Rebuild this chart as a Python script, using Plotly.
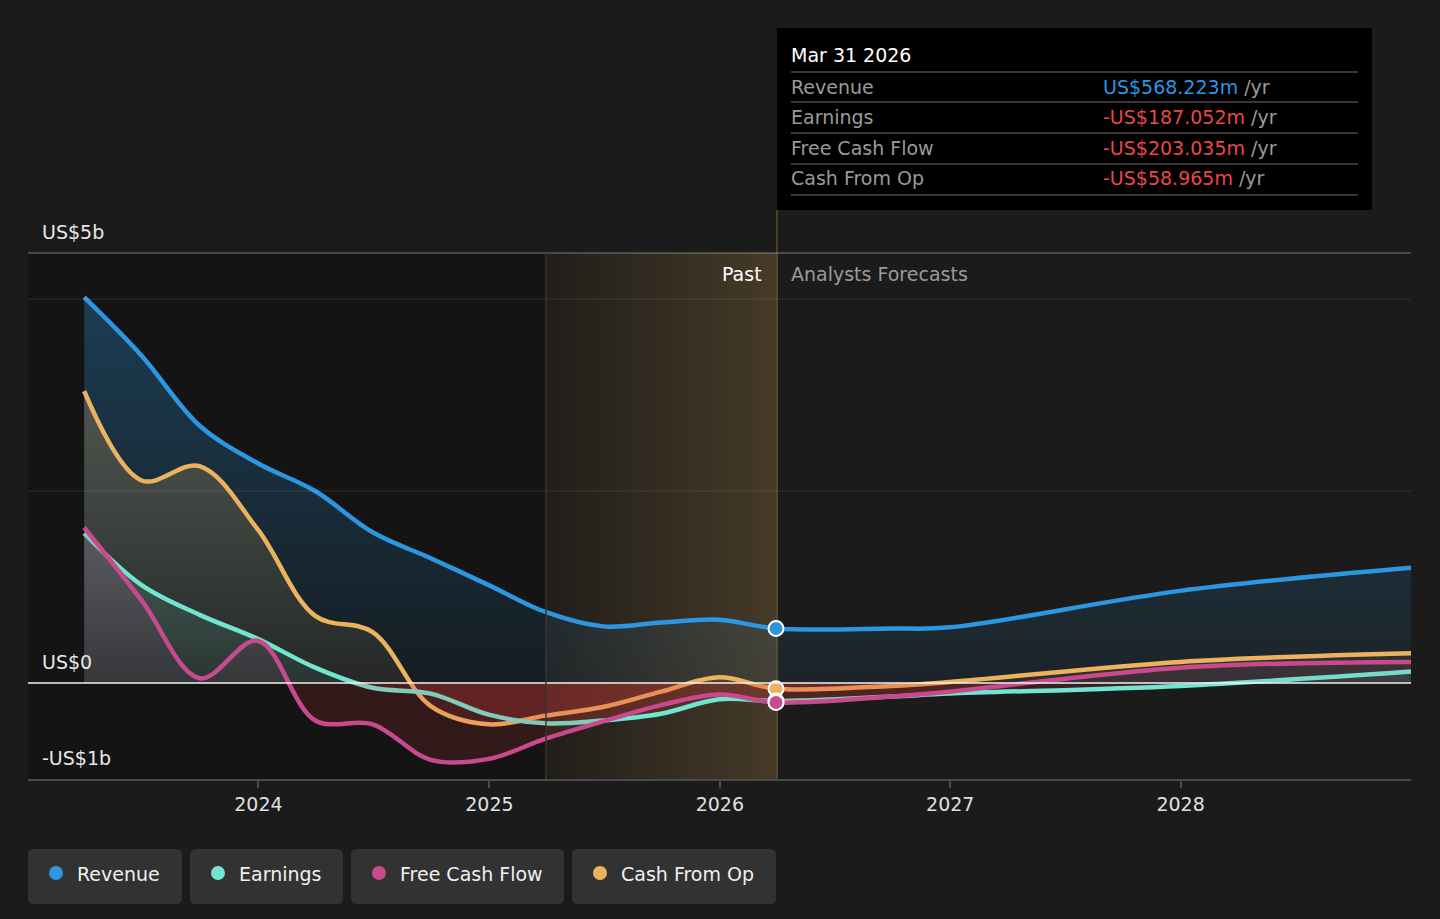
import plotly.graph_objects as go

# ---- data (US$ billions) ----
past_dates = ['2023-03-31', '2023-06-30', '2023-09-30', '2023-12-31',
              '2024-03-31', '2024-06-30', '2024-09-30', '2024-12-31',
              '2025-03-31', '2025-06-30', '2025-09-30', '2025-12-31',
              '2026-03-31']
forecast_dates = ['2026-09-30', '2026-12-31', '2027-12-31', '2028-12-31']

revenue = [4.02, 3.41, 2.68, 2.29, 2.00, 1.57, 1.30, 1.02, 0.74, 0.59, 0.63, 0.66, 0.568]
revenue_fc = [0.568, 0.58, 0.96, 1.20]
earnings = [1.56, 1.02, 0.71, 0.46, 0.16, -0.05, -0.11, -0.33, -0.42, -0.39, -0.32, -0.17, -0.187]
earnings_fc = [-0.14, -0.11, -0.03, 0.12]
free_cash_flow = [1.62, 0.86, 0.05, 0.44, -0.39, -0.43, -0.80, -0.79, -0.58, -0.40, -0.23, -0.12, -0.203]
free_cash_flow_fc = [-0.14, -0.09, 0.16, 0.22]
cash_from_op = [3.04, 2.11, 2.26, 1.60, 0.70, 0.53, -0.24, -0.43, -0.34, -0.25, -0.09, 0.06, -0.059]
cash_from_op_fc = [-0.03, 0.01, 0.22, 0.31]

series_names = ['Revenue', 'Earnings', 'Free Cash Flow', 'Cash From Op']
series_colors = ['#2c96e0', '#71e5d0', '#c8498c', '#ecb35f']
tooltip_date = 'Mar 31 2026'
tooltip_values = ['US$568.223m', '-US$187.052m', '-US$203.035m', '-US$58.965m']
x_ticks = ['2024-01-01', '2025-01-01', '2026-01-01', '2027-01-01', '2028-01-01']
x_tick_labels = ['2024', '2025', '2026', '2027', '2028']

Y_MIN, Y_MAX = -1.0, 4.48
FONT = 'DejaVu Sans'
BG = '#1b1b1b'

# plot box in pixels, used to place the decorations
L, R, T, B = 28, 1411, 253, 779
PAD = 2  # annotation inner padding


def px(x):
    return (x - L) / (R - L)


def py(y):
    return (B - y) / (B - T)


def rgba(hex_color, a):
    h = hex_color.lstrip('#')
    r, g, b = int(h[0:2], 16), int(h[2:4], 16), int(h[4:6], 16)
    return f'rgba({r},{g},{b},{a})'


zero_pos = (0 - Y_MIN) / (Y_MAX - Y_MIN)
neg_red = '#dc3a3a'

fig = go.Figure()

all_dates = past_dates + forecast_dates
data = [revenue + revenue_fc, earnings + earnings_fc,
        free_cash_flow + free_cash_flow_fc, cash_from_op + cash_from_op_fc]
draw_order = [0, 3, 1, 2]

for i in draw_order:
    col = series_colors[i]
    fig.add_trace(go.Scatter(
        x=all_dates, y=data[i], mode='lines', name=series_names[i],
        line=dict(color=col, width=4.5, shape='spline', smoothing=1.0),
        fill='tozeroy',
        fillgradient=dict(
            type='vertical', start=Y_MIN, stop=Y_MAX,
            colorscale=[[0, rgba(neg_red, 0.15)], [zero_pos, rgba(neg_red, 0.15)],
                        [zero_pos, rgba(col, 0.07)], [1, rgba(col, 0.34)]]),
        hoverinfo='skip', showlegend=False,
    ))

# end-of-past markers
for i in [0, 3, 1, 2]:
    fig.add_trace(go.Scatter(
        x=[past_dates[-1]], y=[data[i][len(past_dates) - 1]], mode='markers',
        marker=dict(size=15, color=series_colors[i], line=dict(color='white', width=2)),
        hoverinfo='skip', showlegend=False,
    ))

shapes = []
# darker past background
shapes.append(dict(type='rect', xref='paper', yref='paper', x0=0, x1=px(546), y0=0, y1=1,
                   fillcolor='#141414', line_width=0, layer='below'))
# highlighted last year, gradient strips
n = 40
c0, c1 = (33, 30, 25), (70, 58, 40)
for k in range(n):
    t = k / (n - 1)
    c = tuple(int(round(c0[j] + (c1[j] - c0[j]) * t)) for j in range(3))
    shapes.append(dict(type='rect', xref='paper', yref='paper',
                       x0=px(546 + (777 - 546) * k / n), x1=px(546 + (777 - 546) * (k + 1) / n) + 0.0005,
                       y0=0, y1=1, fillcolor=f'rgb{c}', line_width=0, layer='below'))
# grid lines above fills
for gy in [2, 4]:
    shapes.append(dict(type='line', xref='paper', yref='y', x0=0, x1=1, y0=gy, y1=gy,
                       line=dict(color='rgba(255,255,255,0.10)', width=1), layer='above'))
shapes.append(dict(type='line', xref='paper', yref='paper', x0=0, x1=1, y0=1, y1=1,
                   line=dict(color='rgba(255,255,255,0.28)', width=1.5), layer='above'))
shapes.append(dict(type='line', xref='paper', yref='y', x0=0, x1=1, y0=0, y1=0,
                   line=dict(color='#f2f2f2', width=1.5), layer='above'))
# region borders
shapes.append(dict(type='line', xref='paper', yref='paper', x0=px(546), x1=px(546), y0=0, y1=1,
                   line=dict(color='#3a3630', width=1.5), layer='above'))
shapes.append(dict(type='line', xref='paper', yref='paper', x0=px(777), x1=px(777), y0=0, y1=py(210),
                   line=dict(color='#5c4b2f', width=1.5), layer='below'))

# tooltip box
shapes.append(dict(type='rect', xref='paper', yref='paper', x0=px(777), x1=px(1372),
                   y0=py(210), y1=py(28), fillcolor='#000000', line_width=0, layer='above'))
for sy in [72, 102, 133, 164, 195]:
    shapes.append(dict(type='line', xref='paper', yref='paper', x0=px(791), x1=px(1358),
                       y0=py(sy), y1=py(sy), line=dict(color='#4a4a4a', width=1.5), layer='above'))


def rounded_rect(x0, y0, x1, y1, r):
    X = lambda v: px(v)
    Y = lambda v: py(v)
    return (f'M {X(x0 + r)},{Y(y0)} L {X(x1 - r)},{Y(y0)} Q {X(x1)},{Y(y0)} {X(x1)},{Y(y0 + r)} '
            f'L {X(x1)},{Y(y1 - r)} Q {X(x1)},{Y(y1)} {X(x1 - r)},{Y(y1)} '
            f'L {X(x0 + r)},{Y(y1)} Q {X(x0)},{Y(y1)} {X(x0)},{Y(y1 - r)} '
            f'L {X(x0)},{Y(y0 + r)} Q {X(x0)},{Y(y0)} {X(x0 + r)},{Y(y0)} Z')


def label(x, y, text, color, anchor='left'):
    shift = -PAD if anchor == 'left' else PAD
    return dict(x=px(x + shift), y=py(y), xref='paper', yref='paper', text=text,
                showarrow=False, xanchor=anchor, yanchor='middle',
                font=dict(family=FONT, size=19, color=color))


# legend buttons
legend_boxes = [(28, 182), (190, 343), (351, 564), (572, 776)]
annotations = []
for i, (bx0, bx1) in enumerate(legend_boxes):
    shapes.append(dict(type='path', xref='paper', yref='paper', path=rounded_rect(bx0, 849, bx1, 904, 6),
                       fillcolor='#323232', line_width=0, layer='above'))
    cx = bx0 + 28
    shapes.append(dict(type='circle', xref='paper', yref='paper', x0=px(cx - 7), x1=px(cx + 7),
                       y0=py(880), y1=py(866), fillcolor=series_colors[i], line_width=0, layer='above'))
    annotations.append(label(bx0 + 49, 874, series_names[i], '#f0f0f0'))

# tooltip texts
annotations.append(label(791, 55, tooltip_date, '#ffffff'))
row_y = [87, 117, 148, 178]
for i in range(4):
    vcol = series_colors[0] if not tooltip_values[i].startswith('-') else '#e84848'
    annotations.append(label(791, row_y[i], series_names[i], '#9a9a9a'))
    annotations.append(label(1103, row_y[i],
                             f"<span style='color:{vcol}'>{tooltip_values[i]}</span> /yr", '#9a9a9a'))

# region labels
annotations.append(label(762, 274, 'Past', '#ffffff', anchor='right'))
annotations.append(label(791, 274, 'Analysts Forecasts', '#9a9a9a'))

# y labels
for text, ypix in [('US$5b', 232), ('US$0', 662), ('-US$1b', 758)]:
    annotations.append(label(42, ypix, text, '#e8e8e8'))

fig.update_layout(
    width=1440, height=919,
    margin=dict(l=L, r=1440 - R, t=T, b=919 - B),
    paper_bgcolor=BG, plot_bgcolor=BG,
    showlegend=False,
    shapes=shapes, annotations=annotations,
    xaxis=dict(type='date', range=['2023-01-01', '2028-12-31'],
               tickvals=x_ticks, ticktext=x_tick_labels,
               showgrid=False, zeroline=False,
               showline=True, linecolor='#4a4a4a', linewidth=1.5,
               ticks='outside', ticklen=7, tickcolor='#4a4a4a', tickwidth=1.5,
               tickfont=dict(family=FONT, size=19, color='#e0e0e0'),
               fixedrange=True),
    yaxis=dict(range=[Y_MIN, Y_MAX], showgrid=False, zeroline=False,
               showticklabels=False, fixedrange=True),
)

fig.write_html('out.html', config={'displayModeBar': False},
               post_script="document.body.style.margin='0';document.body.style.overflow='hidden';"
                           "document.body.style.background='#1b1b1b';")
